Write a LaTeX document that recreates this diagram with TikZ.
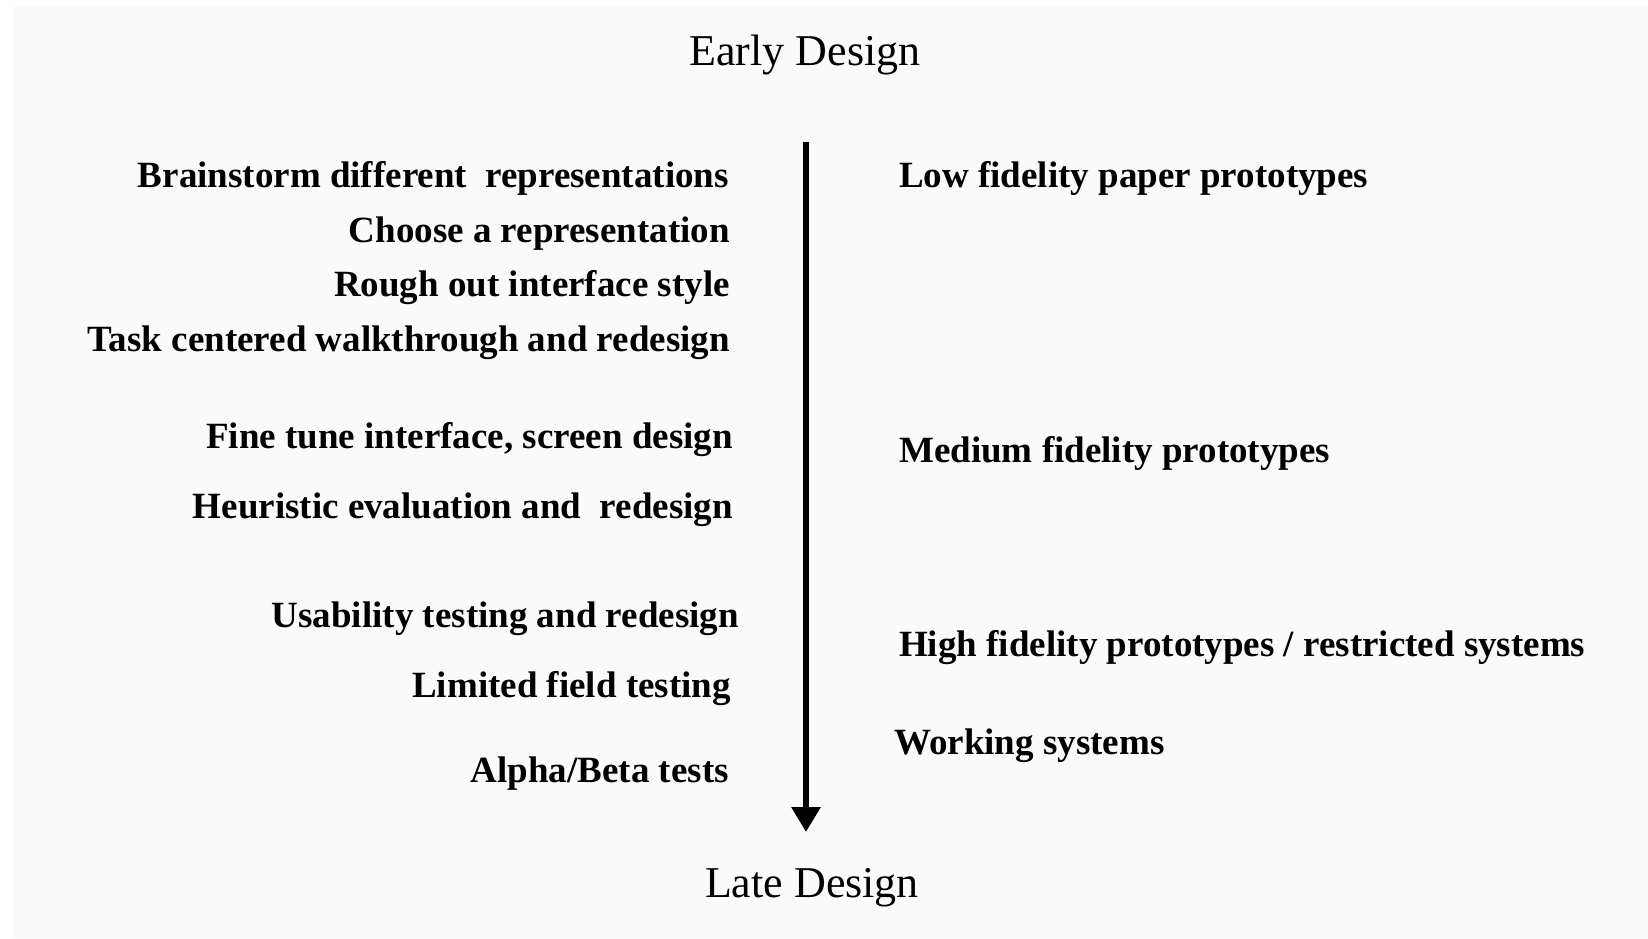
\documentclass[tikz,border=0pt]{standalone}
\usepackage{fontspec}
\setmainfont{Liberation Serif}
\usetikzlibrary{arrows.meta}
\definecolor{paper}{HTML}{FAFAFA}
\tikzset{
  step left/.style={anchor=base east, inner sep=0pt, font=\fontsize{37}{40}\selectfont\bfseries},
  step right/.style={anchor=base west, inner sep=0pt, font=\fontsize{37}{40}\selectfont\bfseries},
  phase/.style={anchor=base, inner sep=0pt, font=\fontsize{44}{46}\selectfont}
}
\begin{document}
\begin{tikzpicture}[x=1pt,y=-1pt]
      \useasboundingbox (0,0) rectangle (1648,938);
      \fill[paper] (13,6) rectangle (1648,938);
      \draw
        (805,65) node[phase] (early){Early Design}
        (812,897) node[phase] (late){Late Design};
      \draw
        (729,187) node[step left] (brain){Brainstorm different\ \ representations}
        (730,242) node[step left] (choose){Choose a representation}
        (730,296) node[step left] (rough){Rough out interface style}
        (730,351) node[step left] (task){Task centered walkthrough and redesign}
        (733,448) node[step left] (fine){Fine tune interface, screen design}
        (733,518) node[step left] (heur){Heuristic evaluation and\ \ redesign}
        (739,627) node[step left] (usab){Usability testing and redesign}
        (731,697) node[step left] (field){Limited field testing}
        (729,782) node[step left] (alpha){Alpha/Beta tests};
      \draw
        (899,187) node[step right] (low){Low fidelity paper prototypes}
        (899,462) node[step right] (medium){Medium fidelity prototypes}
        (899,656) node[step right] (high){High fidelity prototypes / restricted systems}
        (894,754) node[step right] (working){Working systems};
      \coordinate (top) at (806,142);
      \coordinate (tip) at (806,832);
      \begin{scope}[line width=6pt]
        \draw[-{Triangle[width=28pt,length=25pt]}] (top) to (tip);
      \end{scope}
    \end{tikzpicture}
\end{document}
